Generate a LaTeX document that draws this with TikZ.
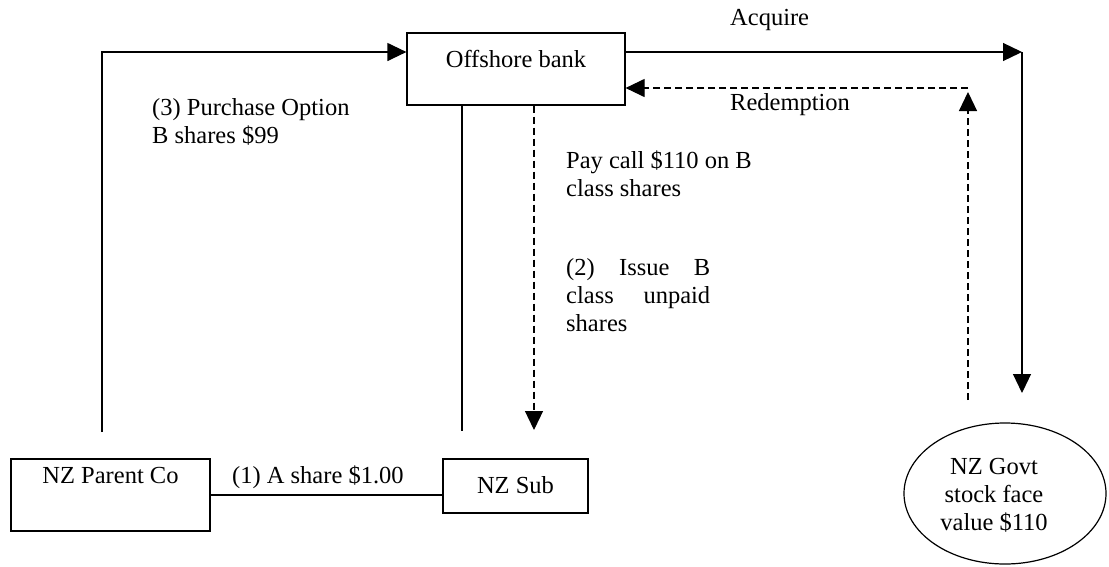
\documentclass[tikz,border=0pt]{standalone}
\usepackage{fontspec}
\setmainfont{Liberation Serif}
\usetikzlibrary{arrows.meta,shapes.geometric}
\begin{document}
\begin{tikzpicture}[x=1pt,y=-1pt,
  every node/.style={font=\fontsize{24.5}{28.3}\selectfont},
  box/.style={draw,line width=1.2pt,inner sep=0pt,rectangle},
  ln/.style={line width=1.2pt},
  arr/.style={ln,-{Triangle[length=19pt,width=18pt]}},
  dsh/.style={dash pattern=on 7pt off 4pt},
  txt/.style={anchor=base west,inner sep=0pt}]
\useasboundingbox (0,0) rectangle (1109,566);
% boxes
\node[box,minimum width=218pt,minimum height=72pt,text height=16pt,text depth=20pt] (bank) at (516,69) {Offshore bank};
\node[box,minimum width=199pt,minimum height=72pt,text height=16pt,text depth=40pt] (parent) at (110.5,495) {NZ Parent Co};
\node[box,minimum width=145pt,minimum height=54pt,text height=20pt,text depth=6pt] (sub) at (515.5,486) {NZ Sub};
\node[draw,ellipse,line width=1.2pt,minimum width=202pt,minimum height=141pt,inner sep=0pt] (govt) at (1005,493.5) {};
\node[anchor=base,inner sep=0pt] (govttext) at (994,474) {\parbox[t]{150pt}{\centering NZ Govt\\stock face\\value \$110}};
% labels
\node[txt] (acq) at (730,25) {Acquire};
\node[txt] (red) at (730,110) {Redemption};
\node[txt] (purch) at (152,115) {\parbox[t]{250pt}{(3) Purchase Option\\B shares \$99}};
\node[txt] (pay) at (566,168) {\parbox[t]{250pt}{Pay call \$110 on B\\class shares}};
\node[txt] (issue) at (566,275) {\parbox[t]{144pt}{\hbox to 144pt{(2)\hfill Issue\hfill B}\par\hbox to 144pt{class\hfill unpaid}\par shares}};
\node[txt] (ashare) at (232,483) {(1) A share \$1.00};
% coordinates
\coordinate (pUp) at (102,432);
\coordinate (acqC) at (1022,52);
\coordinate (acqE) at (1022,393);
\coordinate (redS) at (968,400);
\coordinate (redT) at (968,92);
\coordinate (redC) at (968,88);
\coordinate (subUp) at (462,431);
\coordinate (issueEnd) at (534,430);
% connectors
\draw[arr] (pUp) |- ([yshift=17pt]bank.west);
\draw[arr] ([yshift=17pt]bank.east) -- (acqC);
\draw[arr] (acqC) -- (acqE);
\draw[arr,dsh] (redS) -- (redT);
\draw[arr,dsh] (redC) -- ([yshift=-19pt]bank.east);
\draw[ln] (bank.south -| subUp) -- (subUp);
\draw[arr,dsh] (bank.south -| issueEnd) -- (issueEnd);
\draw[ln] (parent.east) -- (parent.east -| sub.west);
\end{tikzpicture}
\end{document}
